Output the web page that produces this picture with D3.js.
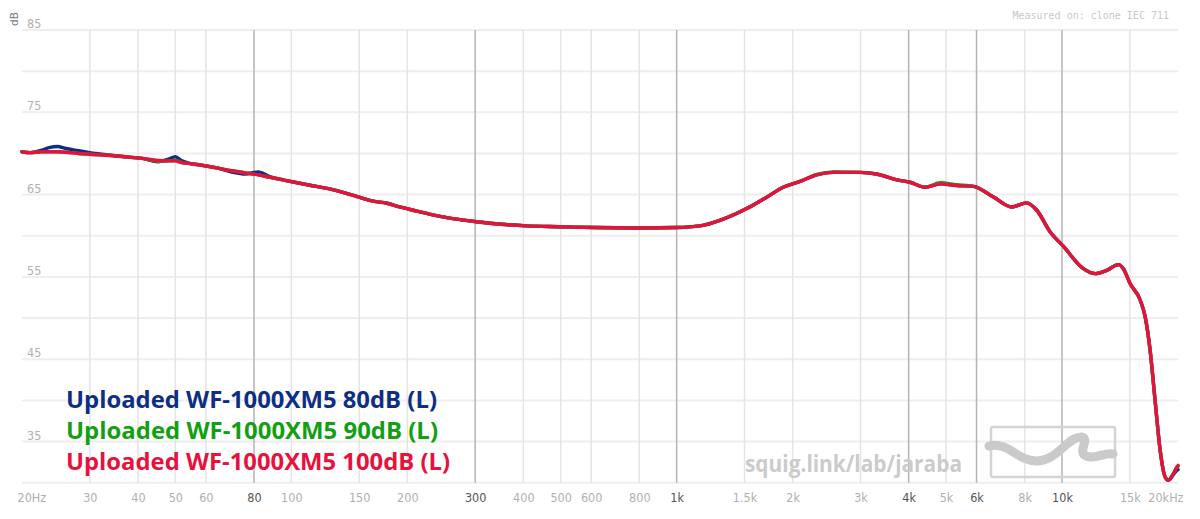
<!DOCTYPE html>
<html><head><meta charset="utf-8">
<script src="https://cdn.jsdelivr.net/npm/d3@7"></script>
<style>
html,body{margin:0;padding:0;background:#fff;}
svg{display:block;}
</style></head>
<body>
<svg id="chart" width="1200" height="519"></svg>
<script>
// ---------- data ----------
const freqs = [20,21,22.5,23.5,24.7,26,28,30,34,37,41,45,48,50,52,55,58,64,70,76,82,88,95,110,128,145,163,177,191,212,234,265,303,350,408,500,608,800,1000,1150,1300,1520,1700,1890,2090,2310,2550,2990,3300,3730,4030,4410,4830,5330,5890,6640,7410,8100,8600,9310,10090,11360,12190,13070,14000,14430,15020,15950,16430,16930,17440,17970,18520,18890,19400,19860,20000];

const red100 = [70.2,70.1,70.2,70.2,70.2,70.15,70.0,69.9,69.75,69.6,69.4,69.15,69.1,69.1,68.9,68.75,68.6,68.25,67.9,67.65,67.4,67.1,66.8,66.2,65.6,64.9,64.2,63.95,63.5,63.0,62.5,62.05,61.7,61.4,61.2,61.1,61.0,60.95,61.0,61.2,61.9,63.3,64.6,65.9,66.6,67.4,67.7,67.7,67.5,66.8,66.5,65.9,66.3,66.1,66.0,64.7,63.5,64.0,63.1,60.5,58.7,56.0,55.4,55.8,56.5,56.0,54.2,52.2,50.2,46.1,40.0,34.0,30.7,30.3,31.0,31.9,32.1];

const green90 = [70.2,70.1,70.2,70.2,70.2,70.15,70.0,69.9,69.75,69.6,69.4,69.05,69.1,69.15,68.9,68.75,68.6,68.25,67.9,67.65,67.4,67.1,66.8,66.2,65.6,64.9,64.2,63.95,63.5,63.0,62.5,62.05,61.7,61.4,61.2,61.1,61.0,60.95,61.0,61.2,61.9,63.3,64.6,65.9,66.6,67.45,67.75,67.7,67.5,66.8,66.5,65.9,66.45,66.2,66.0,64.7,63.5,64.0,63.1,60.5,58.7,56.0,55.4,55.8,56.5,56.0,54.2,52.2,50.2,46.1,40.0,34.0,30.7,30.3,31.0,31.8,32.0];

const blue80 = [70.2,70.1,70.4,70.7,70.85,70.6,70.35,70.1,69.8,69.6,69.4,69.0,69.3,69.6,69.1,68.75,68.6,68.25,67.75,67.5,67.75,67.2,66.8,66.2,65.6,64.9,64.2,63.95,63.5,63.0,62.5,62.05,61.7,61.4,61.2,61.1,61.0,60.95,61.0,61.2,61.9,63.3,64.6,65.9,66.6,67.4,67.7,67.7,67.5,66.8,66.5,65.9,66.3,66.1,66.0,64.7,63.5,64.0,63.1,60.5,58.7,56.0,55.4,55.8,56.5,56.0,54.2,52.2,50.2,46.1,40.0,34.0,30.7,30.3,30.9,31.5,31.6];

const seriesNames = ["Uploaded WF-1000XM5 80dB (L)","Uploaded WF-1000XM5 90dB (L)","Uploaded WF-1000XM5 100dB (L)"];
const seriesColors = ["#0c2f85","#12a012","#e8113d"];
const seriesValues = [blue80, green90, red100];

const xTickValues = [20,30,40,50,60,80,100,150,200,300,400,500,600,800,1000,1500,2000,3000,4000,5000,6000,8000,10000,15000,20000];
const xTickLabels = ["20Hz","30","40","50","60","80","100","150","200","300","400","500","600","800","1k","1.5k","2k","3k","4k","5k","6k","8k","10k","15k","20kHz"];
const xDarkTicks = [80,300,1000,4000,6000,10000];
const yGridValues = [30,35,40,45,50,55,60,65,70,75,80,85];
const yLabelValues = [35,45,55,65,75,85];

// ---------- layout ----------
const svg = d3.select("#chart");
const L = 22, R = 1178, T = 30, B = 482.7;
const x = d3.scaleLog().domain([20,20000]).range([L,R]);
const y = d3.scaleLinear().domain([30,85]).range([B,T]);

const tickFont = "'Liberation Sans Narrow','DejaVu Sans Condensed','Roboto',sans-serif";

// horizontal grid
svg.append("g").selectAll("line").data(yGridValues).join("line")
  .attr("x1",L).attr("x2",R)
  .attr("y1",d=>y(d)).attr("y2",d=>y(d))
  .attr("stroke","#eeeeee").attr("stroke-width",2);

// vertical grid
const vLines = xTickValues.filter(v=>v>20 && v<20000);
svg.append("g").selectAll("line").data(vLines).join("line")
  .attr("x1",d=>x(d)).attr("x2",d=>x(d))
  .attr("y1",T).attr("y2",B)
  .attr("stroke",d=>xDarkTicks.includes(d)?"#b4b4b4":"#e4e4e4")
  .attr("stroke-width",1.5);

// x tick labels via axis
const xAxis = d3.axisBottom(x).tickValues(xTickValues)
  .tickFormat((d,i)=>xTickLabels[i]).tickSize(0).tickPadding(0);
const gx = svg.append("g").attr("transform",`translate(0,${B})`).call(xAxis);
gx.select(".domain").remove();
gx.selectAll("text")
  .attr("y",19.5).attr("dy",null)
  .attr("font-family",tickFont).attr("font-size",12.5)
  .attr("fill",d=>xDarkTicks.includes(d)?"#555":"#b0b0b0")
  .attr("text-anchor",d=>d===20?"start":(d===20000?"end":"middle"))
  .attr("dx",d=>d===20?-5:(d===20000?5:0));

// y labels
const yAxis = d3.axisLeft(y).tickValues(yLabelValues).tickSize(0).tickPadding(0);
const gy = svg.append("g").attr("transform",`translate(${L},0)`).call(yAxis);
gy.select(".domain").remove();
gy.selectAll("text")
  .attr("text-anchor","start").attr("x",5).attr("dy","-0.2em")
  .attr("font-family",tickFont).attr("font-size",12.5).attr("fill","#b0b0b0");

// dB label
svg.append("text").attr("transform","translate(18,26) rotate(-90)")
  .attr("font-family","'DejaVu Sans','Noto Sans',sans-serif").attr("font-size",10.5)
  .attr("fill","#777").text("dB");

// measured on
svg.append("text").attr("x",1169).attr("y",19).attr("text-anchor","end")
  .attr("font-family","'DejaVu Sans Mono','Liberation Mono',monospace").attr("font-size",10)
  .attr("fill","#c8c8c8").text("Measured on: clone IEC 711");

// watermark text
svg.append("text").attr("x",745).attr("y",472)
  .attr("font-family","'Open Sans','Noto Sans',sans-serif").attr("font-weight",700)
  .attr("font-size",23).attr("fill","#cbcbcb")
  .attr("textLength",217).attr("lengthAdjust","spacingAndGlyphs")
  .text("squig.link/lab/jaraba");

// watermark logo
const logo = svg.append("g");
logo.append("rect").attr("x",991).attr("y",427).attr("width",124).attr("height",50).attr("rx",2)
  .attr("fill","none").attr("stroke","#d4d4d4").attr("stroke-width",2.5);
logo.append("path")
  .attr("d","M989,446 C1008,441 1018,462 1038,461 C1058,460 1068,436 1082,437 C1090,439 1077,452 1086,456 C1096,460 1104,452 1113,454")
  .attr("fill","none").attr("stroke","#cacaca").attr("stroke-width",9).attr("stroke-linecap","round");

// curves
const line = d3.line().x(d=>x(d[0])).y(d=>y(d[1])).curve(d3.curveMonotoneX);
const gLines = svg.append("g");
seriesValues.forEach((vals,i)=>{
  const pts = freqs.map((f,j)=>[f,vals[j]]);
  gLines.append("path").datum(pts).attr("d",line)
    .attr("fill","none").attr("stroke",seriesColors[i])
    .attr("stroke-width",3.4).attr("stroke-linejoin","round").attr("stroke-linecap","round");
});

// legend
const legendY = [408,439,470];
const legendW = [371,372,384];
svg.append("g").selectAll("text").data(seriesNames).join("text")
  .attr("x",66).attr("y",(d,i)=>legendY[i])
  .attr("font-family","'Open Sans','Noto Sans',sans-serif").attr("font-weight",700)
  .attr("font-size",23).attr("fill",(d,i)=>seriesColors[i])
  .attr("textLength",(d,i)=>legendW[i]).attr("lengthAdjust","spacingAndGlyphs")
  .text(d=>d);
</script>
</body></html>
